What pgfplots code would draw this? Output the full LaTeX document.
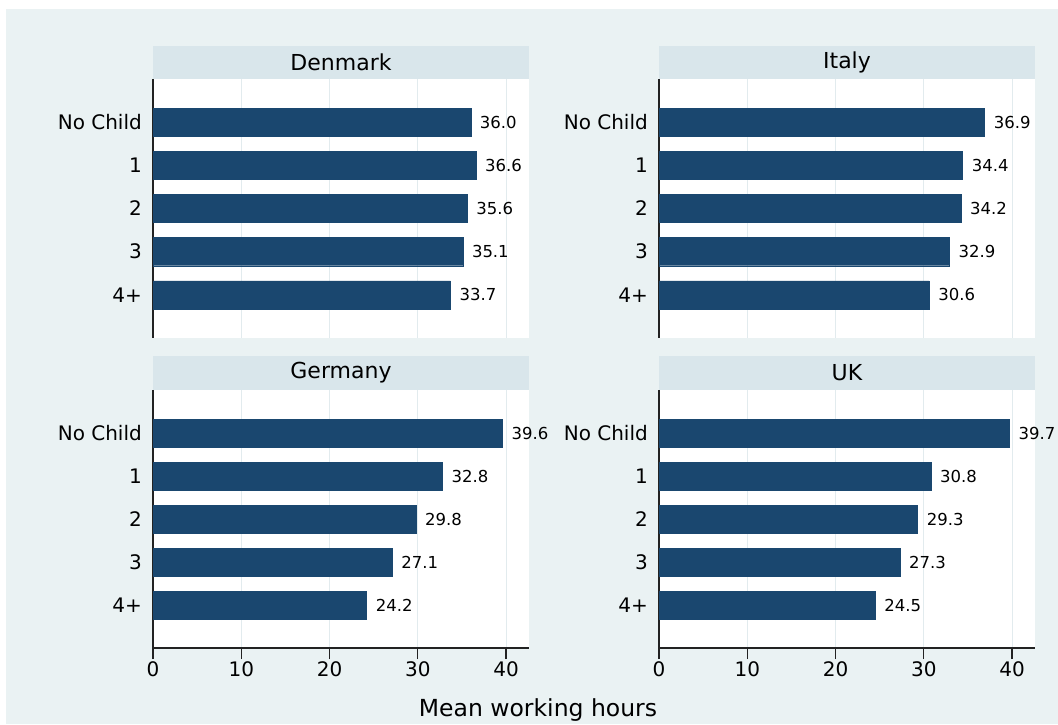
\documentclass[border=0pt]{standalone}
\usepackage{fontspec}
\setmainfont{DejaVu Sans}
\usepackage{pgfplots}
\pgfplotsset{compat=1.18}
\definecolor{bg}{HTML}{EAF2F3}
\definecolor{strip}{HTML}{D9E6EB}
\definecolor{gridc}{HTML}{E2EBEE}
\definecolor{barc}{HTML}{1A476F}
\definecolor{axc}{HTML}{222222}
\pgfplotsset{
  panel/.style={
    scale only axis, width=376pt, xbar, bar width=0.65,
    xmin=0, xmax=42.6, ymin=0, ymax=6, y dir=reverse,
    ytick={1,...,5}, yticklabels={No Child,1,2,3,4+},
    xtick={0,10,...,40},
    /pgf/number format/assume math mode=true,
    xmajorgrids, major grid style={color=gridc, line width=1pt},
    axis lines*=left,
    axis line style={line width=1.4pt, color=axc},
    axis background/.style={fill=white},
    tick align=outside, major tick length=11pt,
    tick style={line width=1.2pt, color=axc},
    ytick style={draw=none},
    yticklabel style={font=\fontsize{20}{20}\selectfont, inner sep=0pt},
    xticklabel style={font=\fontsize{20}{20}\selectfont, inner sep=2pt},
    nodes near coords={\pgfmathprintnumber[fixed,fixed zerofill,precision=1,assume math mode=true]{\pgfplotspointmeta}},
    every node near coord/.append style={font=\fontsize{16.5}{16.5}\selectfont, anchor=west, inner sep=0pt, xshift=9pt, text=black},
    clip=false,
  },
  toppanel/.style={panel, height=259pt, xticklabels={}, xtick style={draw=none}, x axis line style={draw=none}},
  botpanel/.style={panel, height=258pt},
}
\begin{document}
\begin{tikzpicture}[x=1pt,y=1pt]
\useasboundingbox (0,0) rectangle (1058,724);
\fill[white] (0,0) rectangle (1058,724);
\fill[bg] (6,0) rectangle (1058,715);
% strips
\fill[strip] (153,645) rectangle (529,678);
\fill[strip] (659,645) rectangle (1035,678);
\fill[strip] (153,334) rectangle (529,368);
\fill[strip] (659,334) rectangle (1035,368);
\node[font=\fontsize{22}{22}\selectfont] at (341,661.5) {Denmark};
\node[font=\fontsize{22}{22}\selectfont] at (847,661.5) {Italy};
\node[font=\fontsize{22}{22}\selectfont] at (341,351) {Germany};
\node[font=\fontsize{22}{22}\selectfont] at (847,351) {UK};

\begin{axis}[toppanel, at={(153pt,386pt)}, anchor=south west]
\addplot[fill=barc, draw=barc] coordinates {(36.0,1) (36.6,2) (35.6,3) (35.1,4) (33.7,5)};
\end{axis}
\begin{axis}[toppanel, at={(659pt,386pt)}, anchor=south west]
\addplot[fill=barc, draw=barc] coordinates {(36.9,1) (34.4,2) (34.2,3) (32.9,4) (30.6,5)};
\end{axis}
\begin{axis}[botpanel, at={(153pt,76pt)}, anchor=south west]
\addplot[fill=barc, draw=barc] coordinates {(39.6,1) (32.8,2) (29.8,3) (27.1,4) (24.2,5)};
\end{axis}
\begin{axis}[botpanel, at={(659pt,76pt)}, anchor=south west]
\addplot[fill=barc, draw=barc] coordinates {(39.7,1) (30.8,2) (29.3,3) (27.3,4) (24.5,5)};
\end{axis}
\node[font=\fontsize{23.5}{23.5}\selectfont] at (538,14) {Mean working hours};
\end{tikzpicture}
\end{document}
